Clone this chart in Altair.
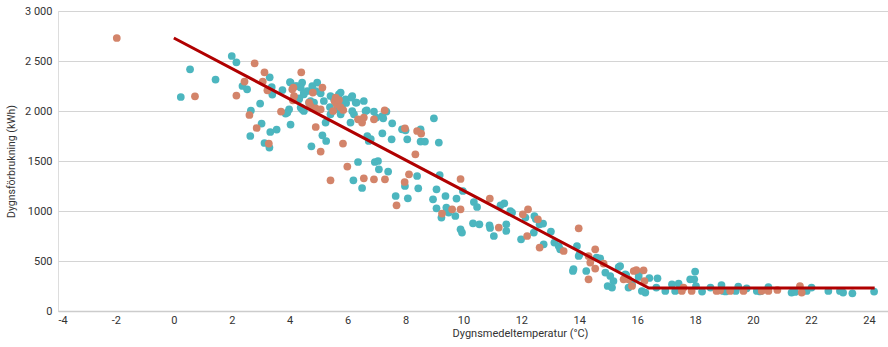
import altair as alt
import pandas as pd

# Teal series (temperature °C, daily consumption kWh)
teal_temp = [0.24, 0.56, 1.44, 2.0, 2.16, 2.37, 2.53, 2.64, 2.66, 2.98, 3.03, 3.13, 3.30, 3.31, 3.33, 3.38, 3.40, 3.55, 3.75, 3.86, 3.98, 3.92, 4.01, 4.03, 4.20, 4.03,
             4.26, 4.43, 4.38, 4.49, 4.61, 4.33, 4.49, 4.67, 4.43, 4.32, 4.49, 4.38, 4.78, 4.95, 4.90, 5.07, 4.84, 4.72, 4.75, 5.13, 5.26, 5.24,
             5.18, 5.41, 5.53, 5.39, 5.70, 5.76, 5.76, 5.80, 5.65, 5.95, 5.93, 6.13, 6.16, 6.28, 6.31, 5.76, 5.41, 6.10, 6.22, 6.16, 6.56, 6.62, 6.66, 6.91, 6.99, 7.23, 7.34, 7.20, 7.54, 7.20, 7.52, 6.68, 6.73, 6.80, 6.36, 6.94, 7.05, 7.08, 7.40, 6.20, 6.50,
             7.88, 8.0, 8.06, 8.52, 8.52, 8.67, 8.98, 9.15, 8.40, 7.98, 8.44, 7.66, 8.08, 9.18, 9.07, 9.38, 8.95, 9.76, 9.98, 9.07, 9.41, 9.49, 9.72, 9.24, 9.90, 9.95, 10.33, 10.55, 10.90, 10.92, 11.05, 10.36, 10.47, 11.28, 11.41, 11.48, 11.48, 11.62, 11.68, 11.99, 12.14, 12.45, 12.50, 12.63, 12.75, 12.43, 12.77, 13.02, 13.14, 13.29, 13.34, 13.78, 13.80, 13.92, 13.98, 14.01,
             14.24, 14.72, 14.60, 14.90, 15.07, 15.18, 14.98, 15.13, 15.36, 15.41, 15.59, 15.62, 15.70, 15.82, 16.05, 16.05, 16.16, 16.28, 16.42, 16.70, 16.66, 16.97, 17.20, 17.43, 17.31, 17.50, 17.83, 18.0, 17.97, 18.03, 18.24, 18.53, 18.91, 18.97, 19.05, 19.49, 19.40, 19.78, 20.13, 20.25, 20.53, 21.33, 21.45, 21.85, 22.02, 22.6, 23.0, 23.11, 23.43, 24.18]
teal_kwh = [2140, 2417, 2314, 2550, 2487, 2250, 2217, 1750, 2004, 2074, 1874, 1680, 1634, 2337, 1790, 2240, 2164, 1814, 2210, 1974, 2017, 1984, 2290, 1864, 2250, 2284,
            2250, 2284, 2234, 2184, 2200, 2127, 2167, 2084, 2017, 2117, 2000, 2034, 2250, 2284, 2200, 2177, 2084, 2100, 1647, 1757, 1700, 1884,
            2100, 2150, 2117, 2040, 2167, 2184, 2100, 2050, 2020, 2080, 2117, 2134, 2150, 2084, 2084, 1967, 1967, 1884, 1967, 2000, 2100, 2000, 2007, 1994, 1934, 1927, 1994, 1950, 1877, 1777, 1717, 1750, 1700, 1720, 1490, 1490, 1500, 1417, 1394, 1307, 1230,
            1817, 1807, 1717, 1817, 1694, 1694, 1927, 1684, 1350, 1250, 1227, 1150, 1127, 1360, 1217, 1150, 1117, 1124, 1200, 1027, 1034, 984, 950, 934, 817, 784, 877, 867, 857, 830, 750, 1090, 1040, 1057, 1077, 867, 800, 1000, 985, 717, 934, 950, 920, 867, 874, 784, 667, 794, 684, 650, 617, 400, 420, 650, 550, 567,
            400, 527, 534, 384, 350, 300, 250, 234, 440, 450, 367, 360, 234, 267, 340, 367, 200, 184, 330, 327, 234, 200, 267, 274, 200, 210, 317, 394, 317, 250, 194, 234, 260, 200, 195, 243, 200, 227, 200, 195, 240, 184, 190, 200, 234, 200, 200, 184, 177, 194]

# Orange series
orange_temp = [-1.97, 0.73, 2.16, 2.44, 2.61, 2.79, 2.86, 3.07, 3.13, 3.23, 3.28, 3.70,
               4.40, 4.13, 4.15, 4.11, 4.09, 4.80, 5.13, 4.72, 4.90, 5.07, 4.67,
               4.90, 5.07, 5.84, 5.41, 5.99,
               5.59, 5.55, 5.62, 5.50, 5.75, 5.85, 5.70,
               6.36, 6.50, 6.56, 6.91, 7.28, 6.56, 6.91, 7.29,
               7.98, 8.40, 8.54, 8.34, 8.12, 7.97, 7.69,
               9.90, 9.61, 9.90, 9.26, 10.91, 11.22, 12.05, 12.23, 12.20, 12.57, 12.63, 13.46, 13.98,
               14.32, 14.55, 14.38, 14.55, 14.32, 14.84, 15.53, 15.70, 15.82, 15.88, 15.97, 16.22, 16.25,
               17.54, 17.6, 17.88, 18.74, 18.86, 19.21, 19.67, 20.3, 20.53, 20.84, 21.62, 21.68]
orange_kwh = [2730, 2147, 2154, 2294, 1960, 2477, 1830, 2294, 2387, 2207, 1674, 1994,
              2387, 2234, 2150, 2107, 2217, 2184, 2234, 2050, 2027, 2017, 2084,
              1840, 1594, 1674, 1307, 1444,
              2134, 2100, 2067, 2000, 2040, 2010, 2110,
              1917, 1884, 1934, 1917, 2007, 1327, 1317, 1317,
              1827, 1800, 1774, 1567, 1367, 1290, 1057,
              1320, 1017, 1017, 974, 1124, 834, 967, 1017, 750, 917, 634, 600, 827,
              550, 617, 484, 424, 317, 474, 317, 317, 250, 400, 410, 407, 300,
              200, 234, 200, 200, 205, 200, 200, 200, 200, 210, 250, 184]

# Fitted line (breakpoints)
line_temp = [0, 16.4, 24.2]
line_kwh = [2730, 230, 230]

x_ticks = list(range(-4, 25, 2))
y_ticks = [0, 500, 1000, 1500, 2000, 2500, 3000]

teal_df = pd.DataFrame({"temp": teal_temp, "kwh": teal_kwh})
orange_df = pd.DataFrame({"temp": orange_temp, "kwh": orange_kwh})
line_df = pd.DataFrame({"temp": line_temp, "kwh": line_kwh})

LABEL_FONT = "Roboto"
TITLE_FONT = "Liberation Sans Narrow, Roboto"

x_enc = alt.X(
    "temp:Q",
    scale=alt.Scale(domain=[-4, 24.66], nice=False, zero=False),
    axis=alt.Axis(
        values=x_ticks,
        title="Dygnsmedeltemperatur (°C)",
        grid=False,
        ticks=False,
        domain=True,
        domainColor="#cccccc",
        domainWidth=1.5,
        labelPadding=3,
        labelFont=LABEL_FONT,
        labelFontSize=11,
        labelColor="#333333",
        labelExpr="'' + datum.value",
        titleFont=TITLE_FONT,
        titleFontSize=11,
        titleFontWeight="normal",
        titleColor="#333333",
        titleX=462,
        titleY=16,
        titleAlign="center",
        titleBaseline="top",
    ),
)
y_enc = alt.Y(
    "kwh:Q",
    scale=alt.Scale(domain=[0, 3000], nice=False),
    axis=alt.Axis(
        values=y_ticks,
        title="Dygnsförbrukning (kWh)",
        grid=True,
        gridColor="#d4d4d4",
        gridWidth=1,
        ticks=False,
        domain=False,
        labelPadding=6,
        labelFont=LABEL_FONT,
        labelFontSize=11,
        labelColor="#333333",
        labelExpr="datum.value >= 2000 ? replace(format(datum.value, ','), ',', ' ') : '' + datum.value",
        titleFont=TITLE_FONT,
        titleFontSize=10.5,
        titleFontWeight="normal",
        titleColor="#333333",
        titleX=-42,
        titleY=150,
        titleAngle=-90,
        titleAlign="center",
        titleBaseline="bottom",
    ),
)

teal = alt.Chart(teal_df).mark_circle(size=60, opacity=1, color="#4cb6bf").encode(x=x_enc, y=y_enc)
orange = alt.Chart(orange_df).mark_circle(size=60, opacity=1, color="#d3846a").encode(x="temp:Q", y="kwh:Q")
line = alt.Chart(line_df).mark_line(color="#b00000", strokeWidth=3).encode(x="temp:Q", y="kwh:Q")

chart = (
    alt.layer(teal, orange, line)
    .properties(
        width=830,
        height=300,
        autosize=alt.AutoSizeParams(type="none"),
        padding={"left": 58, "top": 11, "right": 0, "bottom": 36},
    )
    .configure_view(stroke=None)
    .configure(background="white")
)

chart.save("out.html", embed_options={"renderer": "svg", "actions": False})
